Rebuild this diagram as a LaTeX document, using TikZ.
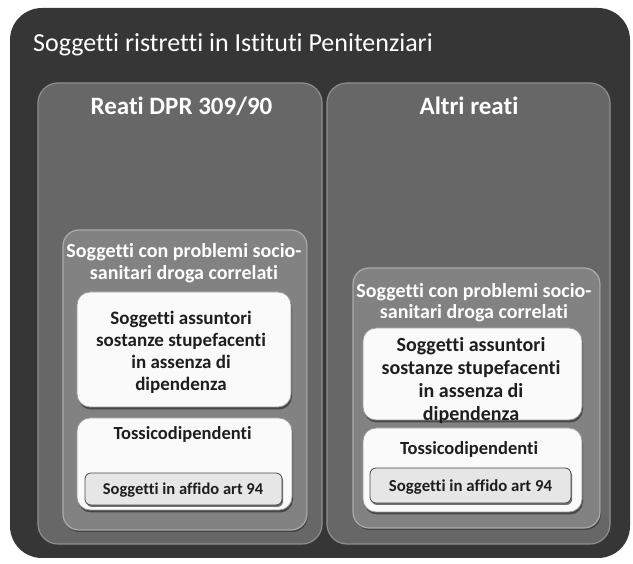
\documentclass[tikz,border=0pt]{standalone}
\usepackage{fontspec}
\setmainfont{Carlito}[Ligatures={NoCommon}]
\usetikzlibrary{shadows}
\definecolor{outerc}{HTML}{363636}
\definecolor{colc}{HTML}{676767}
\definecolor{colhl}{HTML}{8E8E8E}
\definecolor{innerc}{HTML}{828282}
\definecolor{innerhl}{HTML}{ABABAB}
\definecolor{whitec}{HTML}{FAFAFA}
\definecolor{whiteb}{HTML}{9C9C9C}
\definecolor{affc}{HTML}{E6E6E6}
\definecolor{affb}{HTML}{4A4A4A}
\definecolor{darktext}{HTML}{1E1E1E}
\begin{document}
\begin{tikzpicture}[x=1pt,y=-1pt,
  box/.style={rectangle, inner sep=0pt, outer sep=0pt},
  outerbox/.style={box, fill=outerc, rounded corners=32pt},
  colbox/.style={box, fill=colc, draw=colhl, line width=1.2pt, rounded corners=20pt},
  innerbox/.style={box, fill=innerc, draw=innerhl, line width=1.2pt, rounded corners=16pt,
     drop shadow={shadow xshift=1pt, shadow yshift=-2pt, fill=black, opacity=.35}},
  whitebox/.style={box, fill=whitec, draw=whiteb, line width=0.8pt, rounded corners=13pt,
     drop shadow={shadow xshift=1pt, shadow yshift=-2.5pt, fill=black, opacity=.45}},
  affbox/.style={box, fill=affc, draw=affb, line width=0.8pt, rounded corners=6pt,
     drop shadow={shadow xshift=1.2pt, shadow yshift=-2pt, fill=black, opacity=.55}},
  lighttext/.style={inner sep=0pt, text=white},
  darkt/.style={inner sep=0pt, text=darktext, align=center},
]
\useasboundingbox (0,0) rectangle (633,564);
\fill[white] (0,0) rectangle (633,564);

% outer container
\node[outerbox, minimum width=620pt, minimum height=550pt] (outer) at (320,283) {};
\node[lighttext, anchor=base west, font=\fontsize{26}{30}\selectfont] (title) at (33,52) {Soggetti ristretti in Istituti Penitenziari};

% columns
\node[colbox, minimum width=284pt, minimum height=461pt] (colL) at (180,313.5) {};
\node[colbox, minimum width=283pt, minimum height=461pt] (colR) at (468.5,313.5) {};
\node[lighttext, anchor=base, font=\fontsize{25}{30}\bfseries] (colLt) at (181.5,115) {Reati DPR 309/90};
\node[lighttext, anchor=base, font=\fontsize{25}{30}\bfseries] (colRt) at (469,115) {Altri reati};

% inner boxes
\node[innerbox, minimum width=244pt, minimum height=300pt] (inL) at (185,380) {};
\node[innerbox, minimum width=247pt, minimum height=260pt] (inR) at (476.5,398) {};
\node[lighttext, align=center, anchor=north, font=\fontsize{20}{22}\bfseries] (inLt) at (184,242.8) {Soggetti con problemi socio-\\sanitari droga correlati};
\node[lighttext, align=center, anchor=north, font=\fontsize{20}{21}\bfseries] (inRt) at (474,282.8) {Soggetti con problemi socio-\\sanitari droga correlati};

% assuntori boxes
\node[whitebox, minimum width=214pt, minimum height=115pt] (asL) at (184,349.5) {};
\node[whitebox, minimum width=219pt, minimum height=92pt] (asR) at (472.5,374) {};
\node[darkt, anchor=north, font=\fontsize{19}{22}\bfseries] (asLt) at (181,310.5) {Soggetti assuntori\\sostanze stupefacenti\\in assenza di\\dipendenza};
\node[darkt, anchor=north, font=\fontsize{20}{23}\bfseries] (asRt) at (471,336.8) {Soggetti assuntori\\sostanze stupefacenti\\in assenza di\\dipendenza};

% tossicodipendenti boxes
\node[whitebox, minimum width=215pt, minimum height=92pt] (toL) at (184.5,464) {};
\node[whitebox, minimum width=219pt, minimum height=84pt] (toR) at (472.5,470) {};
\node[darkt, anchor=base, font=\fontsize{18.5}{22}\bfseries] (toLt) at (182.5,440) {Tossicodipendenti};
\node[darkt, anchor=base, font=\fontsize{18.5}{22}\bfseries] (toRt) at (469,455) {Tossicodipendenti};

% affido boxes
\node[affbox, minimum width=197pt, minimum height=32pt] (afL) at (183.5,489) {};
\node[affbox, minimum width=201pt, minimum height=35pt] (afR) at (470.5,485.5) {};
\node[darkt, anchor=base, font=\fontsize{16.5}{20}\bfseries] (afLt) at (183,495) {Soggetti in affido art 94};
\node[darkt, anchor=base, font=\fontsize{16.8}{20}\bfseries] (afRt) at (470.5,492) {Soggetti in affido art 94};
\end{tikzpicture}
\end{document}
